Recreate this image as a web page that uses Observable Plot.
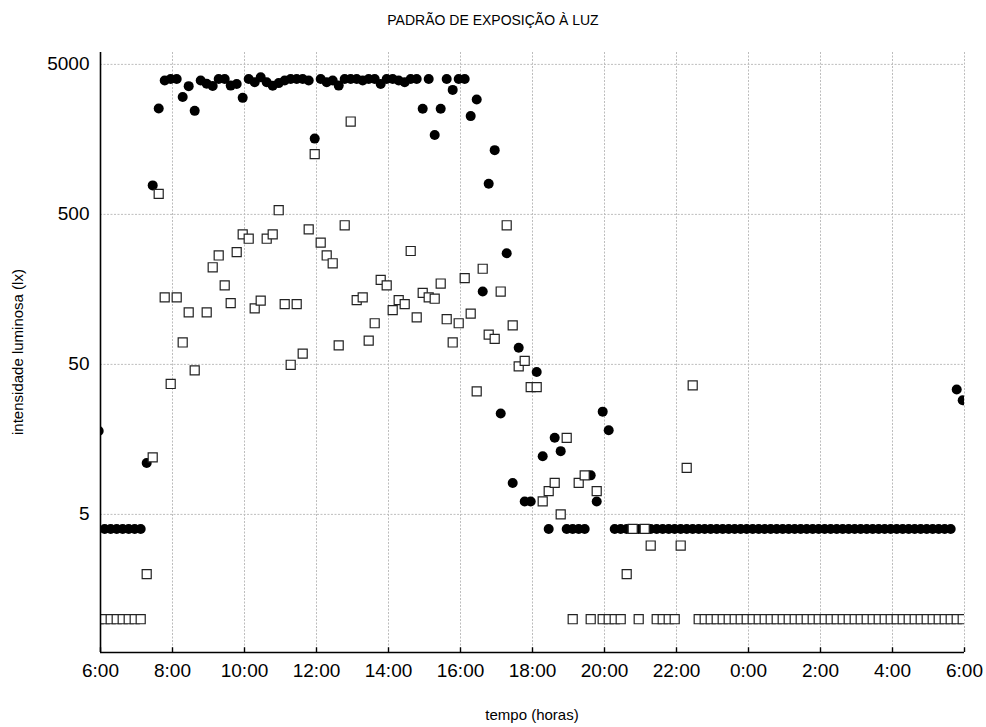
<!DOCTYPE html>
<html><head><meta charset="utf-8">
<script src="https://cdn.jsdelivr.net/npm/d3@7"></script>
<script src="https://cdn.jsdelivr.net/npm/@observablehq/plot@0.6"></script>
<style>
body{margin:0;background:#fff;font-family:"Liberation Sans",Arial,sans-serif;}
#wrap{position:relative;width:986px;height:727px;overflow:hidden;}
.lbl{position:absolute;color:#000;white-space:nowrap;text-align:center;}
#title{left:0;width:986px;top:12px;font-size:14px;line-height:16px;}
#xlab{left:382px;width:300px;top:706px;font-size:15px;line-height:18px;}
#ylab{left:-182px;width:400px;top:343px;font-size:15px;line-height:18px;transform:rotate(-90deg);}
</style></head><body>
<div id="wrap">
<div id="chart"></div>
<div class="lbl" id="title">PADRÃO DE EXPOSIÇÃO À LUZ</div>
<div class="lbl" id="xlab">tempo (horas)</div>
<div class="lbl" id="ylab">intensidade luminosa (lx)</div>
</div>
<script>
// sampling: one reading every 10 min, starting 3 min before 6:00 (minutes from 6:00)
const firstSample = -3;
const sampleStep = 10;

// filled circles (lx)
const circles = [
18,4,4,4,4,4,4,4,11,780,
2540,3900,4000,4000,3030,3580,2450,3900,3710,3590,
4000,4000,3610,3700,2990,4000,3800,4100,3800,3600,
3750,3900,4000,4000,4000,3900,1600,4000,3800,3900,
3610,4000,4000,4000,3900,4000,4000,3700,4000,4000,
3900,3800,4000,4000,2530,4000,1690,2530,4000,3380,
4000,4000,2260,2920,153,800,1340,23.5,275,8.1,
64.5,6.1,6.1,44.5,12.2,4,16.2,13.2,4,4,
4,4,9.1,6.1,24.2,18.2,4,4,4,4,
4,4,4,4,4,4,4,4,4,4,
4,4,4,4,4,4,4,4,4,4,
4,4,4,4,4,4,4,4,4,4,
4,4,4,4,4,4,4,4,4,4,
4,4,4,4,4,4,4,4,4,4,
4,4,4,34,28.8
];

// open squares (lx)
const squares = [
1,1,1,1,1,1,1,1,2.0,12,
685,140,37,140,70,111,45.6,null,111,222,
266,168,128,280,368,344,118,133,344,368,
533,126,49.7,126,59,397,1260,324,266,236,
67,423,2080,134,140,72,94,183,168,115,
134,126,285,103,150,140,137,173,100,70,
94,188,109,33,217,79,74,153,423,91,
48.5,52.7,35.3,35.3,6.1,7.15,8.1,5.0,16.2,1,
8.1,9.1,1,7.15,1,1,1,1,2.0,4,
1,4,3.1,1,1,1,1,3.1,10.2,36.2,
1,1,1,1,1,1,1,1,1,1,
1,1,1,1,1,1,1,1,1,1,
1,1,1,1,1,1,1,1,1,1,
1,1,1,1,1,1,1,1,1,1,
1,1,1,1,1
];

const xTickMinutes = [0,120,240,360,480,600,720,840,960,1080,1200,1320,1440];
const xTickLabels = ["6:00","8:00","10:00","12:00","14:00","16:00","18:00","20:00","22:00","0:00","2:00","4:00","6:00"];
const yTicks = [5,50,500,5000];
const yTickLabels = ["5","50","500","5000"];

const circleData = circles.map((v,i)=>({t: firstSample + i*sampleStep, v})).filter(d=>d.v!=null);
const squareData = squares.map((v,i)=>({t: firstSample + i*sampleStep, v})).filter(d=>d.v!=null);

const font = "Liberation Sans, Arial, sans-serif";
const grid = {stroke:"#bdbdbd", strokeOpacity:1, strokeWidth:1, strokeDasharray:"2,1.5"};

const chart = Plot.plot({
  width: 986, height: 727,
  marginTop: 52, marginBottom: 75, marginLeft: 100, marginRight: 22,
  style: {fontFamily: font, fontSize: "19px", background: "white", color: "black"},
  x: {domain: [0,1440], axis: null},
  y: {type: "log", domain: [0.6, 6000], axis: null},
  marks: [
    Plot.gridY(yTicks, grid),
    Plot.gridX(xTickMinutes.slice(1), grid),
    Plot.dot(circleData, {x:"t", y:"v", r:5, fill:"black", stroke:"none", clip:true}),
    Plot.dot(squareData, {x:"t", y:"v", r:5.1, symbol:"square", fill:"white", stroke:"#222", strokeWidth:1.2, clip:true}),
    Plot.ruleX([0], {stroke:"black", strokeWidth:1.6}),
    Plot.ruleY([0.6], {stroke:"black", strokeWidth:1.6}),
    Plot.ruleX(xTickMinutes, {y1:0.6, y2:0.645, stroke:"black", strokeWidth:1.4}),
    Plot.text(xTickMinutes, {x: d => d, frameAnchor:"bottom", dy: 24, fontSize:19, fill:"black",
      text: d => xTickLabels[xTickMinutes.indexOf(d)]}),
    Plot.text(yTicks, {y: d => d, frameAnchor:"left", dx:-11, textAnchor:"end", fontSize:19, fill:"black",
      text: d => yTickLabels[yTicks.indexOf(d)]})
  ]
});
document.getElementById("chart").appendChild(chart);
</script>
</body></html>
